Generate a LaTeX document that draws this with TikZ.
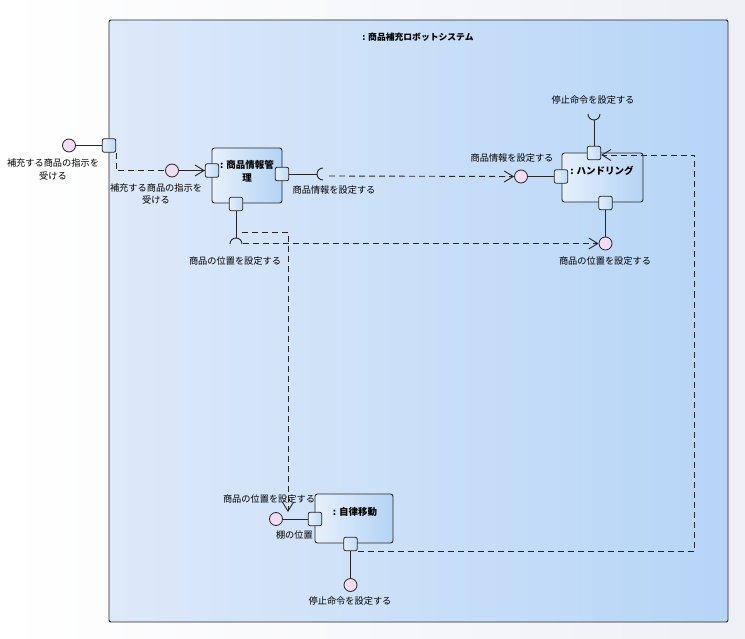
\documentclass[tikz,border=0pt]{standalone}
\usepackage{fontspec}
\setmainfont{Noto Sans CJK JP}
\usetikzlibrary{arrows.meta}
\pgfdeclarelayer{bg}
\pgfdeclarelayer{mid}
\pgfsetlayers{bg,mid,main}
\definecolor{bgR}{HTML}{EEF0F6}
\definecolor{sysL}{HTML}{DDE9F9}
\definecolor{sysR}{HTML}{B6D5F7}
\definecolor{compL}{HTML}{E6F0FC}
\definecolor{compR}{HTML}{B4D3F4}
\definecolor{portL}{HTML}{E4EFFB}
\definecolor{portR}{HTML}{BFDAF5}
\definecolor{lolli}{HTML}{F2DCF2}
\definecolor{edge}{HTML}{262626}
\begin{document}
\begin{tikzpicture}[x=1pt,y=-1pt,
  port/.style={draw=edge, rounded corners=2pt, minimum size=13.5pt, inner sep=0pt, left color=portL, right color=portR, line width=0.8pt},
  lolli/.style={circle, draw=edge, fill=lolli, minimum size=13pt, inner sep=0pt, line width=0.8pt},
  comp/.style={draw=edge, rounded corners=2.5pt, left color=compL, right color=compR, inner sep=0pt, line width=0.9pt},
  lbl/.style={font=\fontsize{9.2}{12.5}\selectfont, inner sep=0pt, align=center, text=black},
  ttl/.style={font=\bfseries\fontsize{9.5}{13}\selectfont, inner sep=0pt, align=center, text=black},
  conn/.style={line width=0.9pt, draw=edge},
  dep/.style={conn, dash pattern=on 6pt off 4pt, -{Straight Barb[length=9pt,width=11pt]}}
]
\useasboundingbox (0,0) rectangle (745,639);
\begin{pgfonlayer}{bg}
% background
\fill[left color=white, right color=bgR] (0,0) rectangle (745,639);
% system frame
\node[draw=edge, rounded corners=2pt, left color=sysL, right color=sysR, line width=0.9pt,
      minimum width=619pt, minimum height=602pt, inner sep=0pt] (sys) at (418.5,321) {};
\end{pgfonlayer}
\node[ttl, font=\bfseries\fontsize{8.8}{12}\selectfont] (title) at (418,37) {: 商品補充ロボットシステム};

% components
\node[comp, minimum width=70pt, minimum height=55pt] (c1) at (247,175.5) {};
\node[ttl] (c1t) at (247,171.5) {: 商品情報管\\理};
\node[comp, minimum width=81pt, minimum height=49pt] (c2) at (602.5,177.5) {};
\node[ttl] (c2t) at (602,171) {: ハンドリング};
\node[comp, minimum width=78pt, minimum height=49pt] (c3) at (354,518.5) {};
\node[ttl] (c3t) at (355,512) {: 自律移動};

% ports
\node[port] (po)  at (109,145.5) {};
\node[port] (p1L) at (212,170.5) {};
\node[port] (p1R) at (282,174) {};
\node[port] (p1B) at (236,204) {};
\node[port] (p2T) at (594,153) {};
\node[port] (p2L) at (561,176.5) {};
\node[port] (p2B) at (605.5,203) {};
\node[port] (p3L) at (315,519) {};
\node[port] (p3B) at (350.5,544) {};

% provided interfaces (lollipops)
\node[lolli] (lo) at (69,145.5) {};
\node[lolli] (l1) at (172,170.5) {};
\node[lolli] (l2) at (521,176.5) {};
\node[lolli] (l3) at (605.5,243.5) {};
\node[lolli] (l5) at (276,519) {};
\node[lolli] (l6) at (350.5,585) {};

\draw[conn] (lo) -- (po);
\draw[conn] (l1) -- (p1L);
\draw[conn] (l2) -- (p2L);
\draw[conn] (p2B) -- (l3);
\draw[conn] (l5) -- (p3L);
\draw[conn] (p3B) -- (l6);

% required interfaces (sockets)
\coordinate (s1) at (317,174);
\coordinate (s2) at (236,238);
\coordinate (s3) at (594,120);
\draw[conn] (p1R) -- (s1);
\draw[conn] (323,168) arc[start angle=270, end angle=90, radius=6];
\draw[conn] (p1B) -- (s2);
\draw[conn] (230,244) arc[start angle=180, end angle=360, radius=6];
\draw[conn] (p2T) -- (s3);
\draw[conn] (600,114) arc[start angle=0, end angle=180, radius=6];

% labels
\node[lbl] (tlo) at (53,169.5) {補充する商品の指示を\\受ける};
\node[lbl] (tl1) at (156,194) {補充する商品の指示を\\受ける};
\node[lbl] (ts1) at (334,190) {商品情報を設定する};
\node[lbl] (ts2) at (235,261) {商品の位置を設定する};
\node[lbl] (ts3) at (593,100.5) {停止命令を設定する};
\node[lbl] (tl2) at (512,158.5) {商品情報を設定する};
\node[lbl] (tl3) at (605,261) {商品の位置を設定する};
\node[lbl] (tl5) at (269,499) {商品の位置を設定する};
\node[lbl, anchor=east] (tl5b) at (313,535) {棚の位置};
\node[lbl] (tl6) at (350,601) {停止命令を設定する};

% dashed connectors (under the nodes)
\begin{pgfonlayer}{mid}
\draw[dep] (po.south east) |- (p1L.west);
\coordinate (s1o) at (329,176);
\draw[dep] (s1o) -- (l2.west);
\coordinate (s2a) at (242,232);
\coordinate (e5) at (288,512);
\draw[dep] (s2a) -| (e5);
\coordinate (s2b) at (243,243.5);
\draw[dep] (s2b) -- (l3.west);
\end{pgfonlayer}
% this one is drawn over the component box
\coordinate (c5) at (694,155);
\draw[dep] (p3B.south east) -| (c5) -- (p2T.east |- c5);
\end{tikzpicture}
\end{document}
